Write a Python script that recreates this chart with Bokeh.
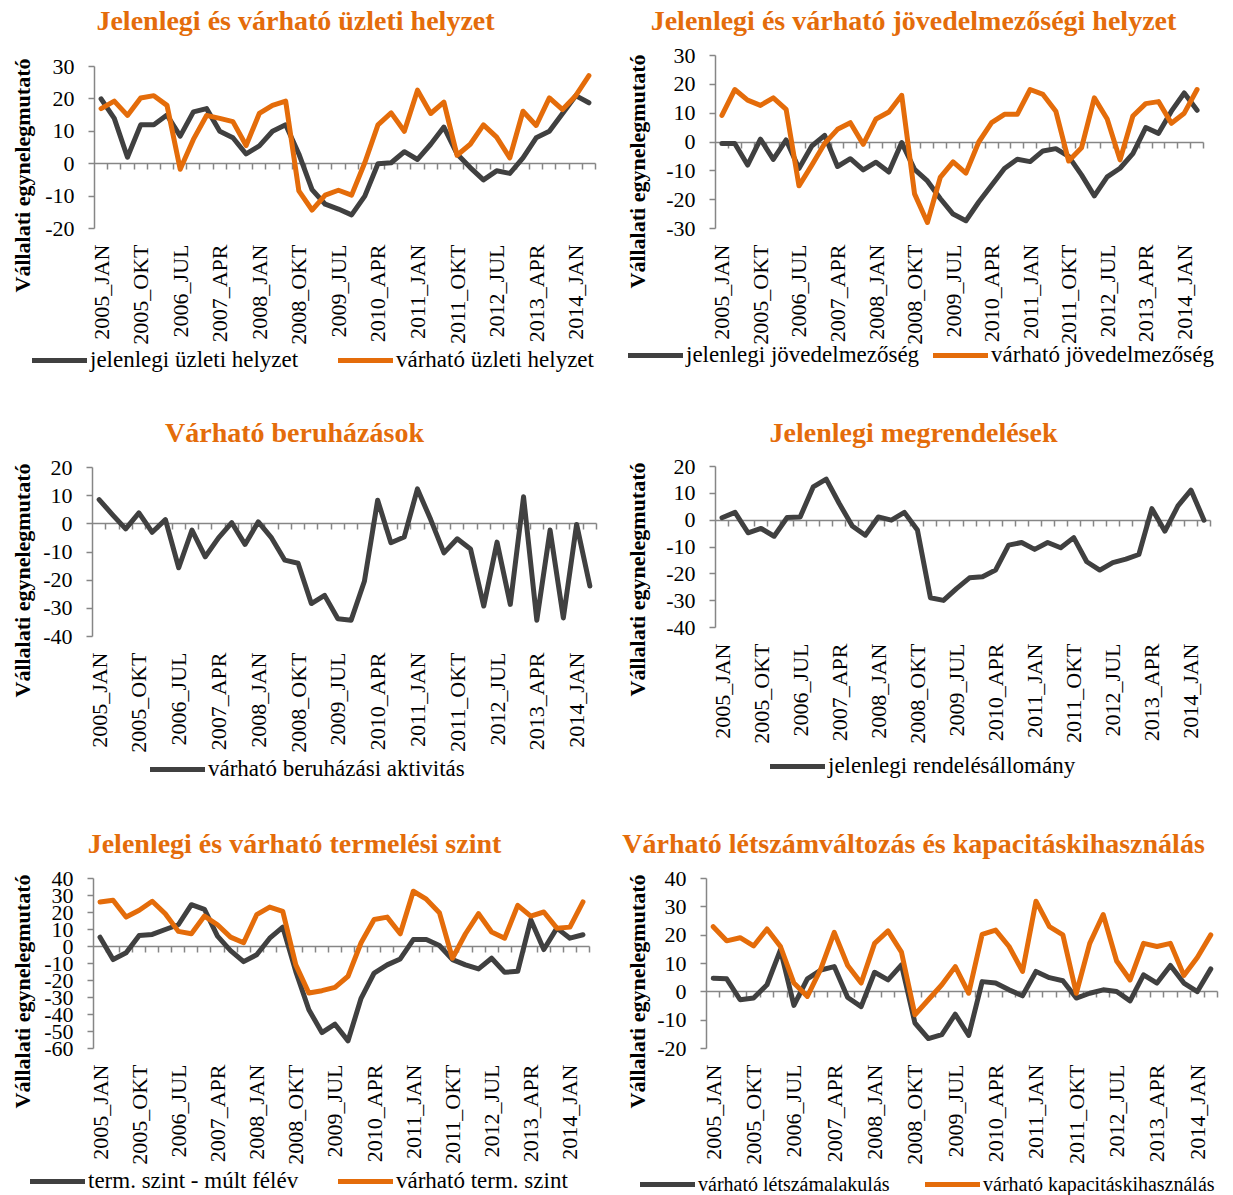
import math
from bokeh.plotting import figure
from bokeh.models import Range1d, LinearAxis, FixedTicker, Legend, LegendItem, Label
from bokeh.layouts import column, row
from bokeh.embed import file_html
from bokeh.resources import INLINE

# ---------------- data ----------------
years = [2005, 2006, 2007, 2008, 2009, 2010, 2011, 2012, 2013, 2014]
months = ["JAN", "APR", "JUL", "OKT"]
categories = [f"{y}_{m}" for y in years for m in months][:38]
label_step = 3

uzleti_jelenlegi = [20, 14, 2, 12, 12, 15, 8.5, 16, 17, 10, 8, 3, 5.5, 10, 12, 3, -8, -12.5, -14, -15.8,
                    -10, 0, 0.3, 3.7, 1.3, 6, 11.3, 3, -1.2, -5, -2.2, -3, 1.8, 8, 10, 15.5, 21, 18.8]
uzleti_varhato = [17, 19.3, 14.9, 20.3, 21, 18, -1.7, 7.5, 14.9, 14, 13, 5.6, 15.5, 18, 19.3, -8.4, -14.3, -9.7,
                  -8.2, -9.7, 0.3, 12, 15.7, 10, 22.7, 15.5, 19, 2.6, 6, 12, 8.2, 1.8, 16.2, 11.8, 20.3, 16.7, 21, 27.2]
jov_jelenlegi = [-0.5, -0.5, -8, 1, -6, 0.7, -9.2, -1.4, 2.3, -8.5, -5.8, -9.7, -7, -10.4, -0.2, -9.5, -13.5,
                 -19.6, -25, -27.3, -20.8, -15, -9.2, -6, -6.8, -3.1, -2.3, -5, -11.4, -18.7, -12.1, -9.1, -4,
                 5, 3, 10.7, 17, 11]
jov_varhato = [9.2, 18.2, 14.5, 12.7, 15.3, 11.3, -15.2, -8, -0.5, 4.4, 6.7, -0.8, 8, 10.4, 16.2, -18, -27.9,
               -12.3, -6.9, -10.8, 0, 6.7, 9.6, 9.6, 18.2, 16.5, 10.7, -6.6, -2, 15.3, 8, -6.2, 9, 13.3, 14,
               6.5, 10, 18.2]
beruhazas = [8.6, 3.3, -1.8, 3.9, -3, 1.5, -15.6, -2.2, -11.7, -5, 0.4, -7.3, 0.7, -5, -12.9, -14, -28.3,
             -25.4, -33.7, -34.2, -20.4, 8.4, -6.7, -4.7, 12.4, 1.5, -10.3, -5.3, -8.9, -29.2, -6.5, -28.6,
             9.6, -34.2, -2.2, -33.4, -0.2, -22.1]
megrendeles = [0.9, 2.9, -4.7, -3.1, -6, 1, 1.2, 12.4, 15.3, 6.2, -2.2, -5.6, 1.2, 0, 2.9, -3.7, -28.9,
               -29.9, -25.5, -21.5, -21.1, -18.6, -9.3, -8.3, -10.9, -8.3, -10.3, -6.5, -15.5, -18.6, -15.8,
               -14.5, -12.8, 4.3, -4.1, 5.3, 11.2, 0]
termeles_mult = [5.5, -7.7, -3.7, 6.5, 7.1, 10, 12.8, 24.6, 21.9, 6.1, -2.4, -8.9, -4.9, 4.9, 11.4, -14.8,
                 -37.2, -50.6, -45.7, -55.5, -30.5, -15.6, -10.8, -7.3, 4.1, 4.1, 0.6, -7.7, -10.8, -13.2,
                 -6.9, -15.2, -14.6, 15.7, -1.8, 10.8, 4.9, 6.9]
termeles_varhato = [26.2, 27.2, 17.3, 21.3, 26.6, 19.3, 8.9, 7.5, 17.9, 12.8, 5.5, 2.2, 18.7, 23.2, 20.7,
                    -10.8, -27.4, -26, -24, -17.5, 2.2, 15.9, 17.3, 7.5, 32.5, 27.8, 19.9, -6.9, 7.5, 19.3,
                    8.5, 4.9, 24.2, 17.9, 20.3, 10.8, 11.4, 26.2]
letszam = [4.8, 4.6, -2.8, -2.2, 2.5, 14.8, -4.8, 4.6, 7.7, 8.9, -2, -5.2, 6.9, 4.2, 9.5, -11, -16.5, -15.1,
           -7.9, -15.4, 3.6, 3.1, 0.7, -1.4, 7.2, 5, 3.9, -2.2, -0.5, 0.7, 0.1, -3.2, 6, 3.1, 9.3, 3.1, 0.1, 8.1]
kapacitas = [23, 18, 19.1, 16.2, 22.2, 16, 3.1, -1.6, 8.1, 21, 9.3, 3.1, 17.1, 21.5, 14, -8.1, -2.8, 2.5,
             8.9, -0.5, 20.3, 21.8, 16, 7.2, 32, 23, 20.1, -0.5, 17.1, 27.3, 10.9, 4.2, 17.1, 16, 17.1, 5.8,
             12.1, 20.1]
y_title = "Vállalati egynelegmutató"

# ---------------- style ----------------
FONT = "Liberation Serif"
DARK = "#404040"
ORANGE = "#E46C0A"
AXIS = "#868686"
LEG_H = 28


def build(w, h, plot_box, yr, series, title, title_c, ytitle_c, legend_pos, legend_size):
    """plot_box = (left, right, top, bottom) pixel edges of the plotting area inside the figure.
    The figure frame covers the whole figure so that all texts are drawn inside it."""
    L, R, T, B = plot_box
    n = len(categories)
    idx = list(range(n))
    kx = n / (R - L)
    ky = (yr[1] - yr[0]) / (B - T)
    p = figure(width=w, height=h,
               x_range=Range1d(-0.5 - L * kx, n - 0.5 + (w - R) * kx),
               y_range=Range1d(yr[0] - (h - B) * ky, yr[1] + T * ky),
               x_axis_type=None, y_axis_type=None, toolbar_location=None, output_backend="svg",
               min_border_left=0, min_border_right=0, min_border_top=0, min_border_bottom=0)
    p.outline_line_color = None
    p.background_fill_color = "white"
    p.border_fill_color = "white"

    # value axis at the left edge of the plotting area
    yticks = list(range(yr[0], yr[1] + 1, 10))
    yax = LinearAxis(fixed_location=-0.5, bounds=(yr[0], yr[1]),
                     ticker=FixedTicker(ticks=yticks),
                     major_label_overrides={v: str(v) for v in yticks},
                     axis_line_color=AXIS, axis_line_width=1.5,
                     major_tick_line_color=AXIS, major_tick_line_width=1.5,
                     major_tick_out=6, major_tick_in=0, minor_tick_line_color=None, minor_tick_out=0,
                     major_label_standoff=14, major_label_text_font=FONT,
                     major_label_text_font_size="22px", major_label_text_color="black")
    p.add_layout(yax, "left")

    # category labels below the plotting area
    ticks = list(range(0, n, label_step))
    xlab = LinearAxis(fixed_location=yr[0], ticker=FixedTicker(ticks=ticks),
                      major_label_overrides={i: categories[i] for i in ticks},
                      major_label_orientation=math.pi / 2,
                      axis_line_color=None, major_tick_line_color=None, minor_tick_line_color=None,
                      major_tick_out=0, major_tick_in=0, minor_tick_out=0, major_label_standoff=16,
                      major_label_text_font=FONT, major_label_text_font_size="22px",
                      major_label_text_color="black")
    p.add_layout(xlab, "below")

    # zero line with tick marks between categories
    zero = LinearAxis(fixed_location=0, bounds=(-0.5, n - 0.5),
                      ticker=FixedTicker(ticks=[i + 0.5 for i in range(n)]),
                      axis_line_color=AXIS, axis_line_width=1.5,
                      major_tick_line_color=AXIS, major_tick_line_width=1.5,
                      major_tick_out=6, major_tick_in=0, minor_tick_line_color=None, minor_tick_out=0,
                      major_label_text_font_size="0px", major_label_text_alpha=0,
                      major_label_standoff=0)
    zero.level = "underlay"
    p.add_layout(zero, "below")

    # series and their legend entries
    for (name, vals, col), (lx, ly) in zip(series, legend_pos):
        r = p.line(idx, vals, line_color=col, line_width=5, line_join="round", line_cap="round")
        leg = Legend(items=[LegendItem(label=name, renderers=[r])],
                     location=(lx, h - ly - LEG_H / 2), orientation="horizontal",
                     glyph_width=55, glyph_height=LEG_H, label_height=LEG_H,
                     label_standoff=3, padding=0, margin=0, spacing=0,
                     border_line_color=None, background_fill_alpha=0, label_text_font=FONT,
                     label_text_font_size=legend_size, label_text_color="black")
        p.add_layout(leg, "center")

    # chart title and axis title
    p.add_layout(Label(x=title_c[0], y=h - title_c[1], x_units="screen", y_units="screen",
                       text=title, text_font=FONT, text_font_style="bold", text_font_size="28px",
                       text_color=ORANGE, text_align="center", text_baseline="middle"))
    p.add_layout(Label(x=ytitle_c[0], y=h - ytitle_c[1], x_units="screen", y_units="screen",
                       text=y_title, angle=math.pi / 2, text_font=FONT, text_font_style="bold",
                       text_font_size="22px", text_color="black", text_align="center",
                       text_baseline="middle"))
    return p


p1 = build(616, 398, (94, 595, 66, 228), (-20, 30),
           [("jelenlegi üzleti helyzet", uzleti_jelenlegi, DARK),
            ("várható üzleti helyzet", uzleti_varhato, ORANGE)],
           "Jelenlegi és várható üzleti helyzet", (295, 20), (22, 175),
           [(32, 360), (338, 360)], "23px")
p2 = build(617, 398, (99, 587, 55, 228), (-30, 30),
           [("jelenlegi jövedelmezőség", jov_jelenlegi, DARK),
            ("várható jövedelmezőség", jov_varhato, ORANGE)],
           "Jelenlegi és várható jövedelmezőségi helyzet", (297, 20), (21, 171),
           [(12, 355), (317, 355)], "23px")
p3 = build(616, 402, (92, 596, 69, 238), (-40, 20),
           [("várható beruházási aktivitás", beruhazas, DARK)],
           "Várható beruházások", (294, 34), (22, 182),
           [(150, 371)], "23px")
p4 = build(617, 402, (99, 594, 68, 229), (-40, 20),
           [("jelenlegi rendelésállomány", megrendeles, DARK)],
           "Jelenlegi megrendelések", (297, 34), (21, 181),
           [(154, 368)], "23px")
p5 = build(616, 395, (93, 589, 78, 248), (-60, 40),
           [("term. szint - múlt félév", termeles_mult, DARK),
            ("várható term. szint", termeles_varhato, ORANGE)],
           "Jelenlegi és várható termelési szint", (294, 43), (22, 191),
           [(30, 381), (338, 381)], "23px")
p6 = build(617, 395, (90, 601, 78, 248), (-20, 40),
           [("várható létszámalakulás", letszam, DARK),
            ("várható kapacitáskihasználás", kapacitas, ORANGE)],
           "Várható létszámváltozás és kapacitáskihasználás", (297, 43), (21, 191),
           [(24, 384), (309, 384)], "20px")

layout = column(row(p1, p2), row(p3, p4), row(p5, p6))
open("out.html", "w").write(file_html(layout, INLINE))
